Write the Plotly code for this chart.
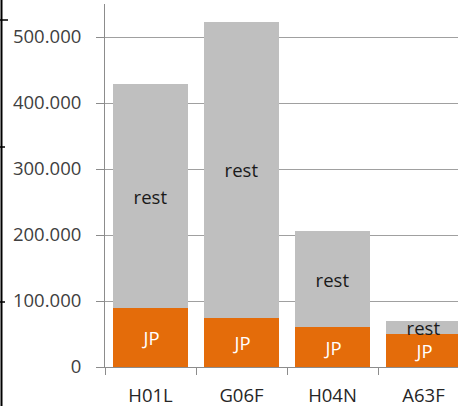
import plotly.graph_objects as go

# Patent classes and counts per applicant group
categories = ["H01L", "G06F", "H04N", "A63F"]
jp_values = [89000, 75000, 60000, 50000]
rest_values = [340000, 447000, 146000, 19000]
series_names = ["JP", "rest"]

W, H = 458, 406
M_L, M_R, M_T, M_B = 105, 0, 4, 39
plot_w = W - M_L - M_R
plot_h = H - M_T - M_B
cat_px = 91  # width of one category slot in pixels

FONT = "Open Sans"
FS = 18.5
ORANGE = "#E46C0A"
GREY = "#BFBFBF"
GRID = "#A0A0A0"
AXIS = "#8C8C8C"

fig = go.Figure()
fig.add_trace(go.Bar(
    x=categories, y=jp_values, name=series_names[0],
    marker=dict(color=ORANGE, line=dict(width=0)),
    text=[series_names[0]] * len(categories), texttemplate="%{text}",
    textposition="inside", insidetextanchor="middle", constraintext="none",
    textangle=0, insidetextfont=dict(family=FONT, size=FS, color="#FFFFFF"),
    hoverinfo="skip",
))
fig.add_trace(go.Bar(
    x=categories, y=rest_values, name=series_names[1],
    marker=dict(color=GREY, line=dict(width=0)),
    text=[series_names[1]] * len(categories), texttemplate="%{text}",
    textposition="inside", insidetextanchor="middle", constraintext="none",
    textangle=0, insidetextfont=dict(family=FONT, size=FS, color="#1A1A1A"),
    hoverinfo="skip",
))


def px_x(p):
    return (p - M_L) / plot_w


def px_y(p):
    return (H - M_B - p) / plot_h


# black frame edge with small marks on the far left
shapes = [dict(type="line", xref="paper", yref="paper",
               x0=px_x(1.5), x1=px_x(1.5), y0=px_y(0), y1=px_y(H),
               line=dict(color="#000000", width=2))]
for yy, ln in [(20, 8), (147, 5), (302, 5)]:
    shapes.append(dict(type="line", xref="paper", yref="paper",
                       x0=px_x(0), x1=px_x(ln), y0=px_y(yy), y1=px_y(yy),
                       line=dict(color="#000000", width=1.5)))

fig.update_layout(
    width=W, height=H,
    margin=dict(l=M_L, r=M_R, t=M_T, b=M_B, pad=0),
    barmode="stack", bargap=0.165,
    showlegend=False,
    paper_bgcolor="#FFFFFF", plot_bgcolor="#FFFFFF",
    separators=",.",
    font=dict(family=FONT, size=FS, color="#404040"),
    uniformtext=dict(minsize=FS, mode="show"),
    shapes=shapes,
    xaxis=dict(
        type="category", range=[-0.5, -0.5 + plot_w / cat_px],
        tickson="boundaries", ticks="outside", ticklen=7, tickcolor=AXIS,
        tickwidth=1, showline=True, linecolor=AXIS, linewidth=1,
        showgrid=False, zeroline=False,
        tickfont=dict(family=FONT, size=FS, color="#262626"),
        ticklabelstandoff=12,
        fixedrange=True,
    ),
    yaxis=dict(
        range=[0, 550000], dtick=100000, tickformat=",d",
        ticks="outside", ticklen=8, tickcolor=AXIS, tickwidth=1,
        showline=True, linecolor=AXIS, linewidth=1,
        showgrid=True, gridcolor=GRID, gridwidth=1, zeroline=False,
        tickfont=dict(family=FONT, size=FS, color="#404040"),
        ticklabelstandoff=11,
        fixedrange=True,
    ),
)

fig.write_html("out.html")
